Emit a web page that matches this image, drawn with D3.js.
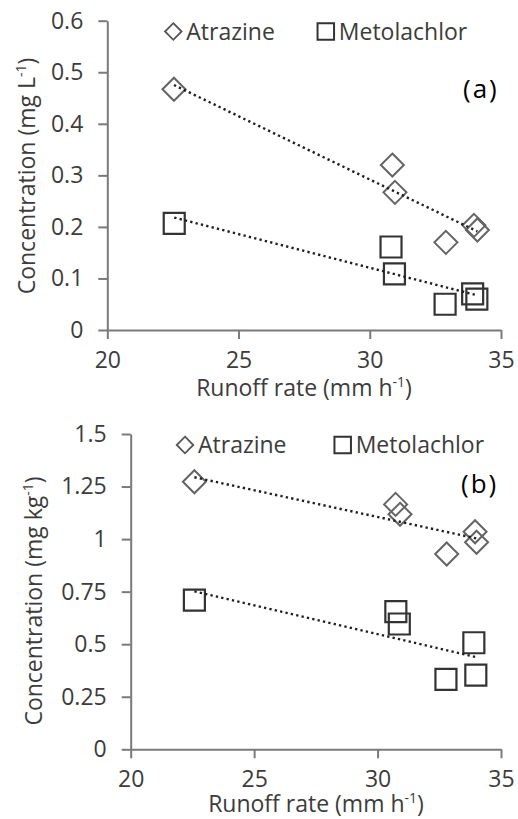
<!DOCTYPE html>
<html><head><meta charset="utf-8">
<script src="https://cdn.jsdelivr.net/npm/d3@7"></script>
<style>
html,body{margin:0;padding:0;background:#fff;}
svg{display:block;}
text{font-family:"Open Sans",sans-serif;}
</style></head>
<body>
<svg id="chart" width="518" height="819"></svg>
<script>
// ---- data ----
const xTicks = [20, 25, 30, 35];
const yTicksA = [0, 0.1, 0.2, 0.3, 0.4, 0.5, 0.6];
const yTicksB = [0, 0.25, 0.5, 0.75, 1, 1.25, 1.5];
const yTickLabelsB = ["0", "0.25", "0.5", "0.75", "1", "1.25", "1.5"];
const seriesNames = ["Atrazine", "Metolachlor"];

// panel (a): concentration in runoff water (mg L-1)
const runoffAtrazineA = [22.54, 30.86, 30.96, 32.9, 33.97, 34.1];
const atrazineA = [0.467, 0.320, 0.267, 0.170, 0.203, 0.194];
const runoffMetolachlorA = [22.55, 30.81, 30.94, 32.87, 33.92, 34.08];
const metolachlorA = [0.207, 0.161, 0.109, 0.050, 0.070, 0.060];

// panel (b): concentration in sediment (mg kg-1)
const runoffAtrazineB = [22.58, 30.73, 30.91, 32.8, 33.95, 34.01];
const atrazineB = [1.273, 1.165, 1.118, 0.929, 1.035, 0.985];
const runoffMetolachlorB = [22.58, 30.74, 30.88, 32.77, 33.9, 33.98];
const metolachlorB = [0.710, 0.655, 0.596, 0.333, 0.507, 0.353];

// ---- drawing ----
const svg = d3.select("#chart");
const FS = 23;
const TXT = "#3c3c3c";

function fit(xs, ys) {
  const mx = d3.mean(xs), my = d3.mean(ys);
  let sxy = 0, sxx = 0;
  xs.forEach((x, i) => { sxy += (x - mx) * (ys[i] - my); sxx += (x - mx) * (x - mx); });
  const b = sxy / sxx, a = my - b * mx;
  const x0 = d3.min(xs), x1 = d3.max(xs);
  return [[x0, a + b * x0], [x1, a + b * x1]];
}

const diamond = r => `M0,${-r}L${r},0L0,${r}L${-r},0Z`;
const square = s => `M${-s/2},${-s/2}h${s}v${s}h${-s}Z`;

function panel(cfg) {
  const g = svg.append("g");
  const x = d3.scaleLinear().domain([20, 35]).range([cfg.left, cfg.right]);
  const y = d3.scaleLinear().domain([0, cfg.yMax]).range([cfg.bottom, cfg.top]);

  const ya = d3.axisLeft(y).tickValues(cfg.yTicks).tickSize(9).tickSizeOuter(0)
    .tickPadding(cfg.yPad).tickFormat((d, i) => cfg.yLabels[i]);
  const gy = g.append("g").attr("transform", `translate(${cfg.left},0)`).call(ya);
  const xa = d3.axisBottom(x).tickValues(xTicks).tickSize(9).tickSizeOuter(0)
    .tickPadding(cfg.xPad).tickFormat(d3.format("d"));
  const gx = g.append("g").attr("transform", `translate(0,${cfg.bottom})`).call(xa);
  [gx, gy].forEach(a => {
    a.select(".domain").attr("stroke", "#7a7a7a").attr("stroke-width", 2);
    a.selectAll(".tick line").attr("stroke", "#7a7a7a").attr("stroke-width", 2);
    a.selectAll(".tick text").attr("fill", TXT).attr("font-size", FS)
      .attr("font-family", "'Open Sans',sans-serif");
  });

  // axis titles
  const xt = g.append("text").attr("x", cfg.xTitleX).attr("y", cfg.xTitleY)
    .attr("text-anchor", "middle").attr("font-size", FS).attr("fill", TXT);
  xt.append("tspan").text("Runoff rate (mm h");
  xt.append("tspan").text("-1").attr("font-size", 14).attr("dy", -9);
  xt.append("tspan").text(")").attr("dy", 9);

  const yt = g.append("text")
    .attr("transform", `translate(${cfg.yTitleX},${cfg.yTitleY}) rotate(-90)`)
    .attr("text-anchor", "middle").attr("font-size", FS).attr("fill", TXT);
  yt.append("tspan").text(cfg.yTitle);
  yt.append("tspan").text("-1").attr("font-size", 14).attr("dy", -9);
  yt.append("tspan").text(")").attr("dy", 9);

  // markers
  const atz = cfg.atzX.map((v, i) => [v, cfg.atzY[i]]);
  const met = cfg.metX.map((v, i) => [v, cfg.metY[i]]);
  g.selectAll(".atz").data(atz).join("path")
    .attr("d", diamond(11.5))
    .attr("transform", d => `translate(${x(d[0])},${y(d[1])})`)
    .attr("fill", "none").attr("stroke", "#646464").attr("stroke-width", 2);
  g.selectAll(".met").data(met).join("path")
    .attr("d", square(21))
    .attr("transform", d => `translate(${x(d[0])},${y(d[1])})`)
    .attr("fill", "none").attr("stroke", "#333").attr("stroke-width", 2.2);

  // trendlines
  const line = d3.line().x(d => x(d[0])).y(d => y(d[1]));
  [fit(cfg.atzX, cfg.atzY), fit(cfg.metX, cfg.metY)].forEach(t => {
    g.append("path").attr("d", line(t)).attr("fill", "none")
      .attr("stroke", "#1e1e1e").attr("stroke-width", 2.4)
      .attr("stroke-dasharray", "2.3,3.2");
  });

  // legend
  const L = cfg.legend;
  g.append("path").attr("d", diamond(8.3)).attr("transform", `translate(${L.dx},${L.y})`)
    .attr("fill", "none").attr("stroke", "#555").attr("stroke-width", 1.8);
  g.append("text").attr("x", L.dx + 13).attr("y", L.y + 8).attr("font-size", FS)
    .attr("fill", TXT).text(seriesNames[0]);
  g.append("path").attr("d", square(16.5)).attr("transform", `translate(${L.sx},${L.y})`)
    .attr("fill", "none").attr("stroke", "#333").attr("stroke-width", 2);
  g.append("text").attr("x", L.sx + 13).attr("y", L.y + 8).attr("font-size", FS)
    .attr("fill", TXT).text(seriesNames[1]);

  // panel label
  g.append("text").attr("x", cfg.tagX).attr("y", cfg.tagY)
    .attr("font-family", "'Liberation Serif',serif").attr("font-size", 26)
    .attr("letter-spacing", 2).attr("fill", "#000").text(cfg.tag);
}

panel({
  left: 107.3, right: 501, top: 20.7, bottom: 330, yMax: 0.6,
  yTicks: yTicksA, yLabels: yTicksA.map(d => String(d)), yPad: 15, xPad: 13,
  xTitleX: 304, xTitleY: 396, yTitleX: 35, yTitleY: 176,
  yTitle: "Concentration (mg L",
  atzX: runoffAtrazineA, atzY: atrazineA, metX: runoffMetolachlorA, metY: metolachlorA,
  legend: { dx: 173.3, sx: 325.8, y: 31.5 },
  tag: "(a)", tagX: 463, tagY: 98
});

panel({
  left: 130.7, right: 501, top: 434, bottom: 749.3, yMax: 1.5,
  yTicks: yTicksB, yLabels: yTickLabelsB, yPad: 15, xPad: 12,
  xTitleX: 316, xTitleY: 812, yTitleX: 41.5, yTitleY: 601,
  yTitle: "Concentration (mg kg",
  atzX: runoffAtrazineB, atzY: atrazineB, metX: runoffMetolachlorB, metY: metolachlorB,
  legend: { dx: 185, sx: 342.7, y: 445 },
  tag: "(b)", tagX: 461, tagY: 493
});
</script>
</body></html>
